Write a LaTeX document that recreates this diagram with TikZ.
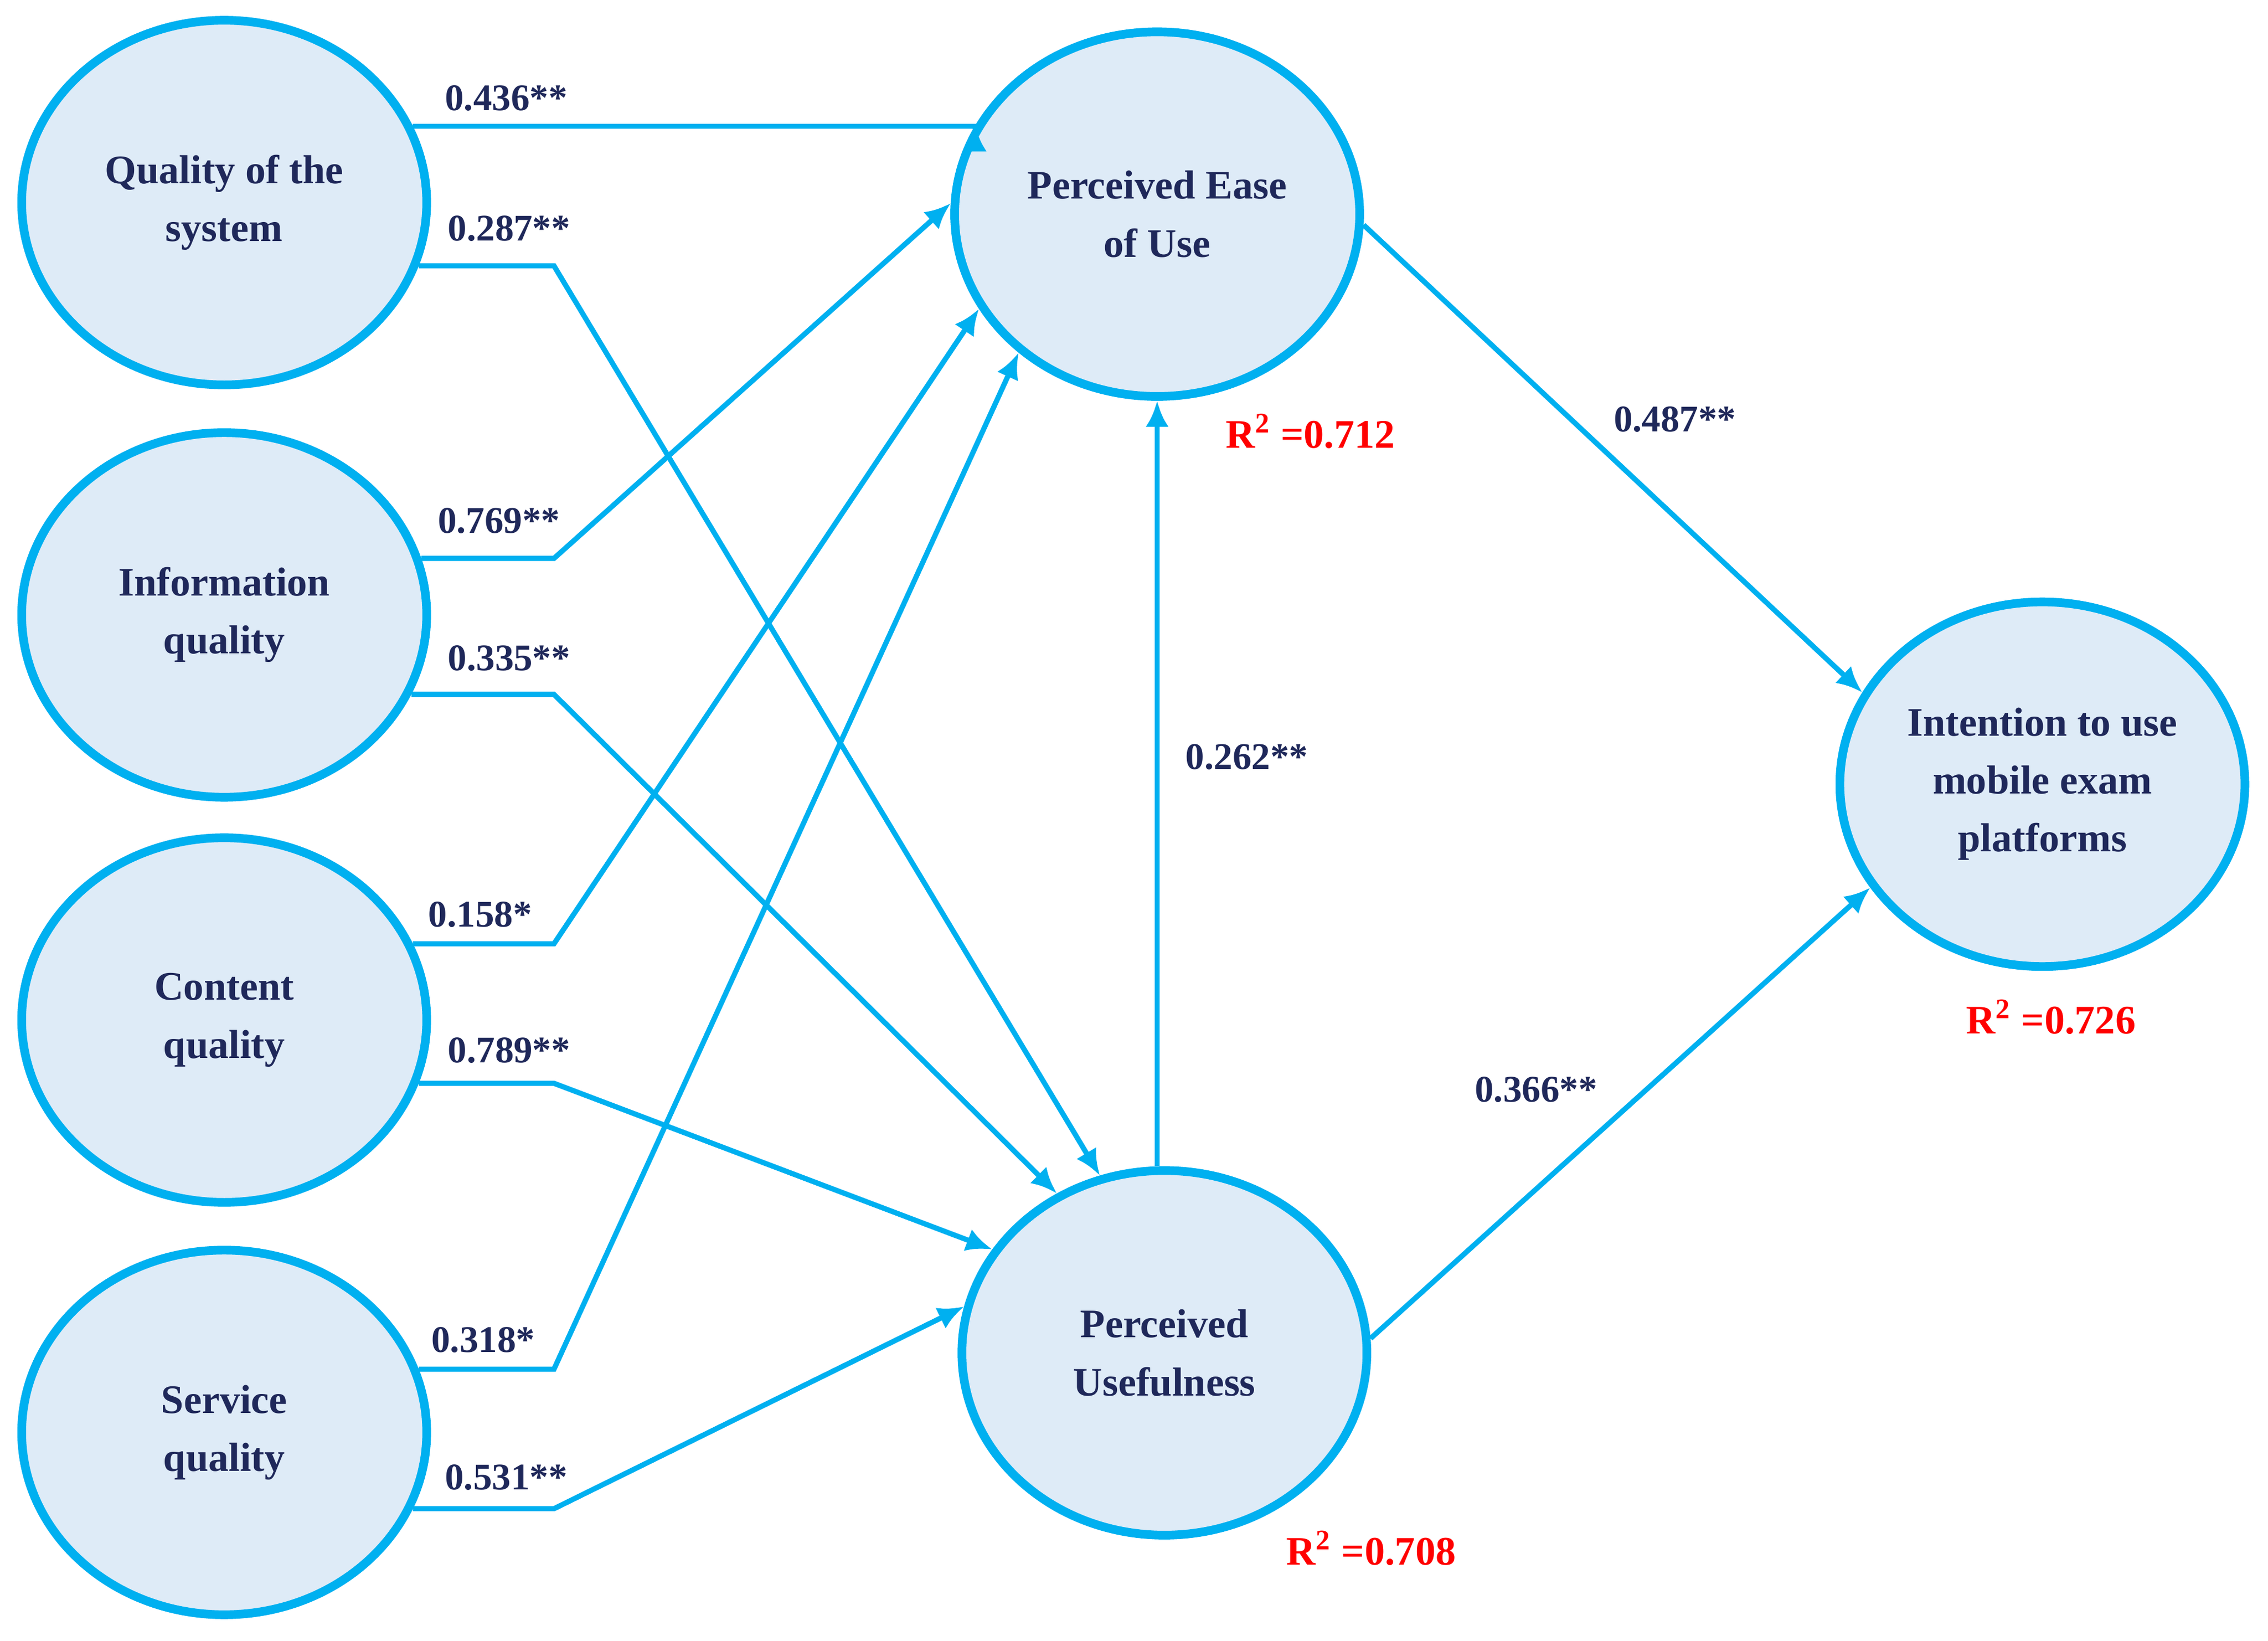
\documentclass[tikz,border=0pt]{standalone}
\usepackage{fontspec}
\setmainfont{Liberation Serif}
\usetikzlibrary{shapes.geometric,arrows.meta}
\definecolor{cline}{RGB}{0,176,240}
\definecolor{cfill}{RGB}{222,235,247}
\definecolor{ctext}{RGB}{31,40,90}
\tikzset{
 construct/.style={ellipse,draw=cline,fill=cfill,line width=3pt,minimum width=140pt,minimum height=126pt,inner sep=0pt,align=center,text=ctext,font=\bfseries\fontsize{14}{20}\selectfont},
 conn/.style={draw=cline,line width=1.8pt,-{Latex[length=9pt,width=8pt]}},
 coef/.style={text=ctext,font=\bfseries\fontsize{13}{15}\selectfont},
 rsq/.style={text=red,font=\bfseries\fontsize{14}{16}\selectfont},
}
\begin{document}
\begin{tikzpicture}[x=0.5pt,y=-0.5pt]
\useasboundingbox (0,0) rectangle (1568,1134);
\node[construct] (qs) at (155,140) {Quality of the\\system};
\node[construct] (iq) at (155,425) {Information\\quality};
\node[construct] (cq) at (155,705) {Content\\quality};
\node[construct] (sq) at (155,990) {Service\\quality};
\node[construct] (peou) at (800,148) {Perceived Ease\\of Use};
\node[construct] (pu) at (805,935) {Perceived\\Usefulness};
\node[construct] (itu) at (1412,542) {Intention to use\\mobile exam\\platforms};
\coordinate (ex) at (383,0);
\draw[conn] (qs.22) -- (qs.22 -| peou.154) -- (peou.154);
\draw[conn] (qs.-18) -- (qs.-18 -| ex) -- (pu.110);
\draw[conn] (iq.16) -- (iq.16 -| ex) -- (peou.177);
\draw[conn] (iq.-23) -- (iq.-23 -| ex) -- (pu.124);
\draw[conn] (cq.22) -- (cq.22 -| ex) -- (peou.208);
\draw[conn] (cq.-18) -- (cq.-18 -| ex) -- (pu.149);
\draw[conn] (sq.18) -- (sq.18 -| ex) -- (peou.225);
\draw[conn] (sq.-22) -- (sq.-22 -| ex) -- (pu.167);
\draw[conn] (pu.north -| peou.south) -- (peou.south);
\draw[conn] (peou.-3) -- (itu.153);
\draw[conn] (pu.4) -- (itu.211);
\node[coef] (l1) at (350,68) {0.436**};
\node[coef] (l2) at (352,158) {0.287**};
\node[coef] (l3) at (345,360) {0.769**};
\node[coef] (l4) at (352,455) {0.335**};
\node[coef] (l5) at (332,632) {0.158*};
\node[coef] (l6) at (352,726) {0.789**};
\node[coef] (l7) at (334,926) {0.318*};
\node[coef] (l8) at (350,1021) {0.531**};
\node[coef] (l9) at (862,523) {0.262**};
\node[coef] (l10) at (1158,290) {0.487**};
\node[coef] (l11) at (1062,753) {0.366**};
\node[rsq] (r1) at (906,298) {R\textsuperscript{2} =0.712};
\node[rsq] (r2) at (1418,703) {R\textsuperscript{2} =0.726};
\node[rsq] (r3) at (948,1070) {R\textsuperscript{2} =0.708};
\end{tikzpicture}
\end{document}
